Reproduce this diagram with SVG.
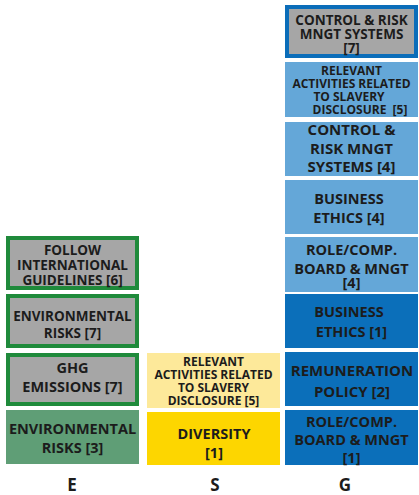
<svg xmlns="http://www.w3.org/2000/svg" width="419" height="495" viewBox="0 0 419 495">
<style>
text{font-family:"Open Sans","Liberation Sans",sans-serif;font-weight:bold;fill:#1c1c1c;text-anchor:middle}
.gray{fill:#a6a6a6}
.gb{stroke:#1f8a3b;stroke-width:4}
.bb{stroke:#0b6db9;stroke-width:4}
.green{fill:#5f9e76}
.ly{fill:#fde99a}
.yl{fill:#fdd600}
.lb{fill:#64a7d8}
.db{fill:#0b6fba}
.s12{font-size:12px}
.s13{font-size:13.5px}
.s14{font-size:14.5px}
.s15{font-size:15px}
.lab{font-size:17px}
</style>
<rect width="419" height="495" fill="#ffffff"/>
<g id="e-follow">
<rect x="8" y="238" width="129" height="50" class="gray gb"/>
<text class="s13"><tspan x="72.5" y="255">FOLLOW</tspan><tspan x="72.5" y="270">INTERNATIONAL</tspan><tspan x="72.5" y="285">GUIDELINES [6]</tspan></text>
</g>
<g id="e-envrisk7">
<rect x="8" y="296" width="129" height="50" class="gray gb"/>
<text class="s13"><tspan x="72.5" y="321">ENVIRONMENTAL</tspan><tspan x="72.5" y="338">RISKS [7]</tspan></text>
</g>
<g id="e-ghg">
<rect x="8" y="355" width="129" height="49" class="gray gb"/>
<text class="s14"><tspan x="72.5" y="373">GHG</tspan><tspan x="72.5" y="392">EMISSIONS [7]</tspan></text>
</g>
<g id="e-envrisk3">
<rect x="6" y="410" width="133" height="54" class="green"/>
<text class="s14"><tspan x="72.5" y="434">ENVIRONMENTAL</tspan><tspan x="72.5" y="453">RISKS [3]</tspan></text>
</g>
<g id="s-slavery">
<rect x="147" y="353" width="133" height="55" class="ly"/>
<text class="s12"><tspan x="213.5" y="366">RELEVANT</tspan><tspan x="213.5" y="379">ACTIVITIES RELATED</tspan><tspan x="213.5" y="392">TO SLAVERY</tspan><tspan x="213.5" y="405">DISCLOSURE [5]</tspan></text>
</g>
<g id="s-diversity">
<rect x="147" y="412" width="133" height="53" class="yl"/>
<text class="s14"><tspan x="214" y="439">DIVERSITY</tspan><tspan x="214" y="458">[1]</tspan></text>
</g>
<g id="g-control7">
<rect x="287" y="7" width="129" height="49" class="gray bb"/>
<text class="s13"><tspan x="351.5" y="25">CONTROL &amp; RISK</tspan><tspan x="351.5" y="39">MNGT SYSTEMS</tspan><tspan x="351.5" y="53">[7]</tspan></text>
</g>
<g id="g-slavery">
<rect x="285" y="62" width="133" height="55" class="lb"/>
<text class="s12"><tspan x="351.5" y="75">RELEVANT</tspan><tspan x="351.5" y="88">ACTIVITIES RELATED</tspan><tspan x="349" y="101">TO SLAVERY</tspan><tspan x="360" y="114" xml:space="preserve">DISCLOSURE  [5]</tspan></text>
</g>
<g id="g-control4">
<rect x="285" y="122" width="133" height="54" class="lb"/>
<text class="s15"><tspan x="351.5" y="135">CONTROL &amp;</tspan><tspan x="351.5" y="154">RISK MNGT</tspan><tspan x="351.5" y="172">SYSTEMS [4]</tspan></text>
</g>
<g id="g-ethics4">
<rect x="285" y="180" width="133" height="54" class="lb"/>
<text class="s14"><tspan x="349" y="204">BUSINESS</tspan><tspan x="349" y="223">ETHICS [4]</tspan></text>
</g>
<g id="g-role4">
<rect x="285" y="237" width="133" height="55" class="lb"/>
<text class="s14"><tspan x="351.5" y="255">ROLE/COMP.</tspan><tspan x="351.5" y="274">BOARD &amp; MNGT</tspan><tspan x="351.5" y="288">[4]</tspan></text>
</g>
<g id="g-ethics1">
<rect x="285" y="294" width="133" height="54" class="db"/>
<text class="s14"><tspan x="349" y="317">BUSINESS</tspan><tspan x="351.5" y="337">ETHICS [1]</tspan></text>
</g>
<g id="g-remuneration">
<rect x="285" y="352" width="133" height="54" class="db"/>
<text class="s15"><tspan x="352" y="376">REMUNERATION</tspan><tspan x="352" y="397">POLICY [2]</tspan></text>
</g>
<g id="g-role1">
<rect x="285" y="410" width="133" height="55" class="db"/>
<text class="s14"><tspan x="351.5" y="427">ROLE/COMP.</tspan><tspan x="351.5" y="445">BOARD &amp; MNGT</tspan><tspan x="351.5" y="463">[1]</tspan></text>
</g>
<g id="labels">
<text class="lab" x="72" y="491">E</text>
<text class="lab" x="215" y="491">S</text>
<text class="lab" x="345" y="491">G</text>
</g>
<g id="connectors"></g>
</svg>
